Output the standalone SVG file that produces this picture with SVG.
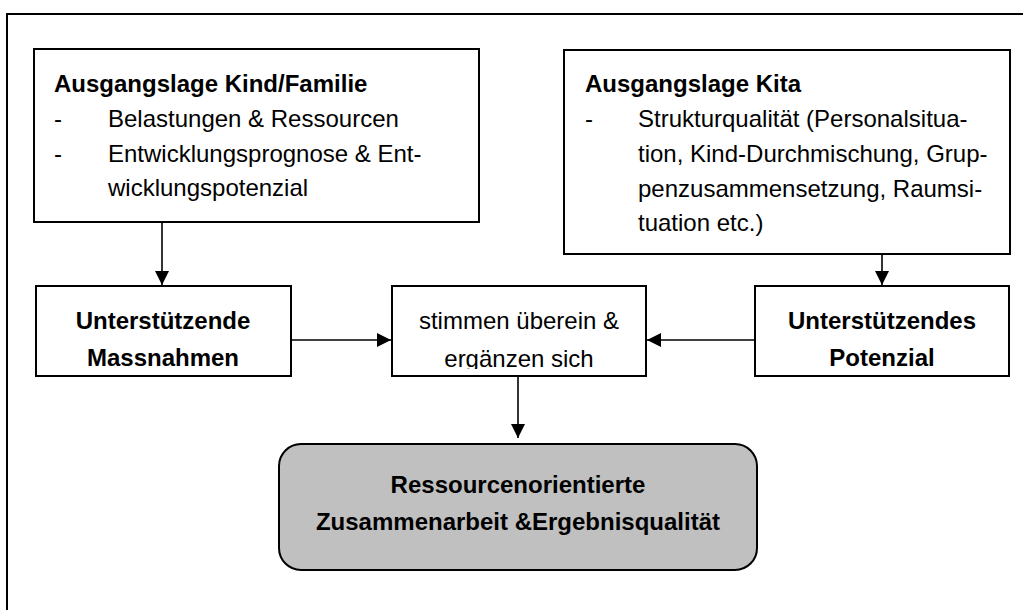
<svg xmlns="http://www.w3.org/2000/svg" width="1023" height="610" viewBox="0 0 1023 610">
<defs>
<style>
.box{fill:#fff;stroke:#000;stroke-width:2}
.res{fill:#c0c0c0;stroke:#000;stroke-width:2}
.t{font-family:"Liberation Sans",Arial,sans-serif;font-size:24px;fill:#000}
.b{font-weight:bold}
.c{text-anchor:middle}
.con{stroke:#000;stroke-width:1.6;fill:none}
</style>
<marker id="ah" viewBox="0 0 10 10" refX="10" refY="5" markerWidth="14" markerHeight="16" markerUnits="userSpaceOnUse" orient="auto">
<path d="M0,0 L10,5 L0,10 Z" fill="#000"/>
</marker>
<clipPath id="midclip"><rect x="392" y="287" width="254" height="82"/></clipPath>
</defs>
<rect x="0" y="0" width="1023" height="610" fill="#fff"/>
<path d="M7,630 V14 H1040" fill="none" stroke="#000" stroke-width="2"/>

<g id="kind">
<rect class="box" x="34" y="49" width="445" height="173"/>
<text class="t b" x="54" y="92">Ausgangslage Kind/Familie</text>
<text class="t" x="54" y="127">-</text>
<text class="t" x="108" y="127">Belastungen &amp; Ressourcen</text>
<text class="t" x="54" y="162">-</text>
<text class="t" x="108" y="162">Entwicklungsprognose &amp; Ent-</text>
<text class="t" x="108" y="196">wicklungspotenzial</text>
</g>

<g id="kita">
<rect class="box" x="564" y="50" width="446" height="204"/>
<text class="t b" x="585" y="92">Ausgangslage Kita</text>
<text class="t" x="585" y="127">-</text>
<text class="t" x="638" y="127">Strukturqualität (Personalsitua-</text>
<text class="t" x="638" y="162">tion, Kind-Durchmischung, Grup-</text>
<text class="t" x="638" y="197">penzusammensetzung, Raumsi-</text>
<text class="t" x="638" y="231">tuation etc.)</text>
</g>

<g id="massnahmen">
<rect class="box" x="36" y="286" width="255" height="90"/>
<text class="t b c" x="163" y="329">Unterstützende</text>
<text class="t b c" x="163" y="366">Massnahmen</text>
</g>

<g id="uebereinstimmung">
<rect class="box" x="392" y="286" width="254" height="90"/>
<g clip-path="url(#midclip)">
<text class="t c" x="519" y="329">stimmen überein &amp;</text>
<text class="t c" x="519" y="367">ergänzen sich</text>
</g>
</g>

<g id="potenzial">
<rect class="box" x="755" y="286" width="254" height="90"/>
<text class="t b c" x="882" y="329">Unterstützendes</text>
<text class="t b c" x="882" y="366">Potenzial</text>
</g>

<g id="ergebnis">
<rect class="res" x="279" y="444" width="478" height="126" rx="22" ry="22"/>
<text class="t b c" x="518" y="493">Ressourcenorientierte</text>
<text class="t b c" x="518" y="530">Zusammenarbeit &amp;Ergebnisqualität</text>
</g>

<g id="connectors">
<line class="con" x1="162" y1="222" x2="162" y2="285" marker-end="url(#ah)"/>
<line class="con" x1="882" y1="254" x2="882" y2="285" marker-end="url(#ah)"/>
<line class="con" x1="291" y1="340" x2="391" y2="340" marker-end="url(#ah)"/>
<line class="con" x1="755" y1="340" x2="647" y2="340" marker-end="url(#ah)"/>
<line class="con" x1="518" y1="376" x2="518" y2="438" marker-end="url(#ah)"/>
</g>
</svg>
